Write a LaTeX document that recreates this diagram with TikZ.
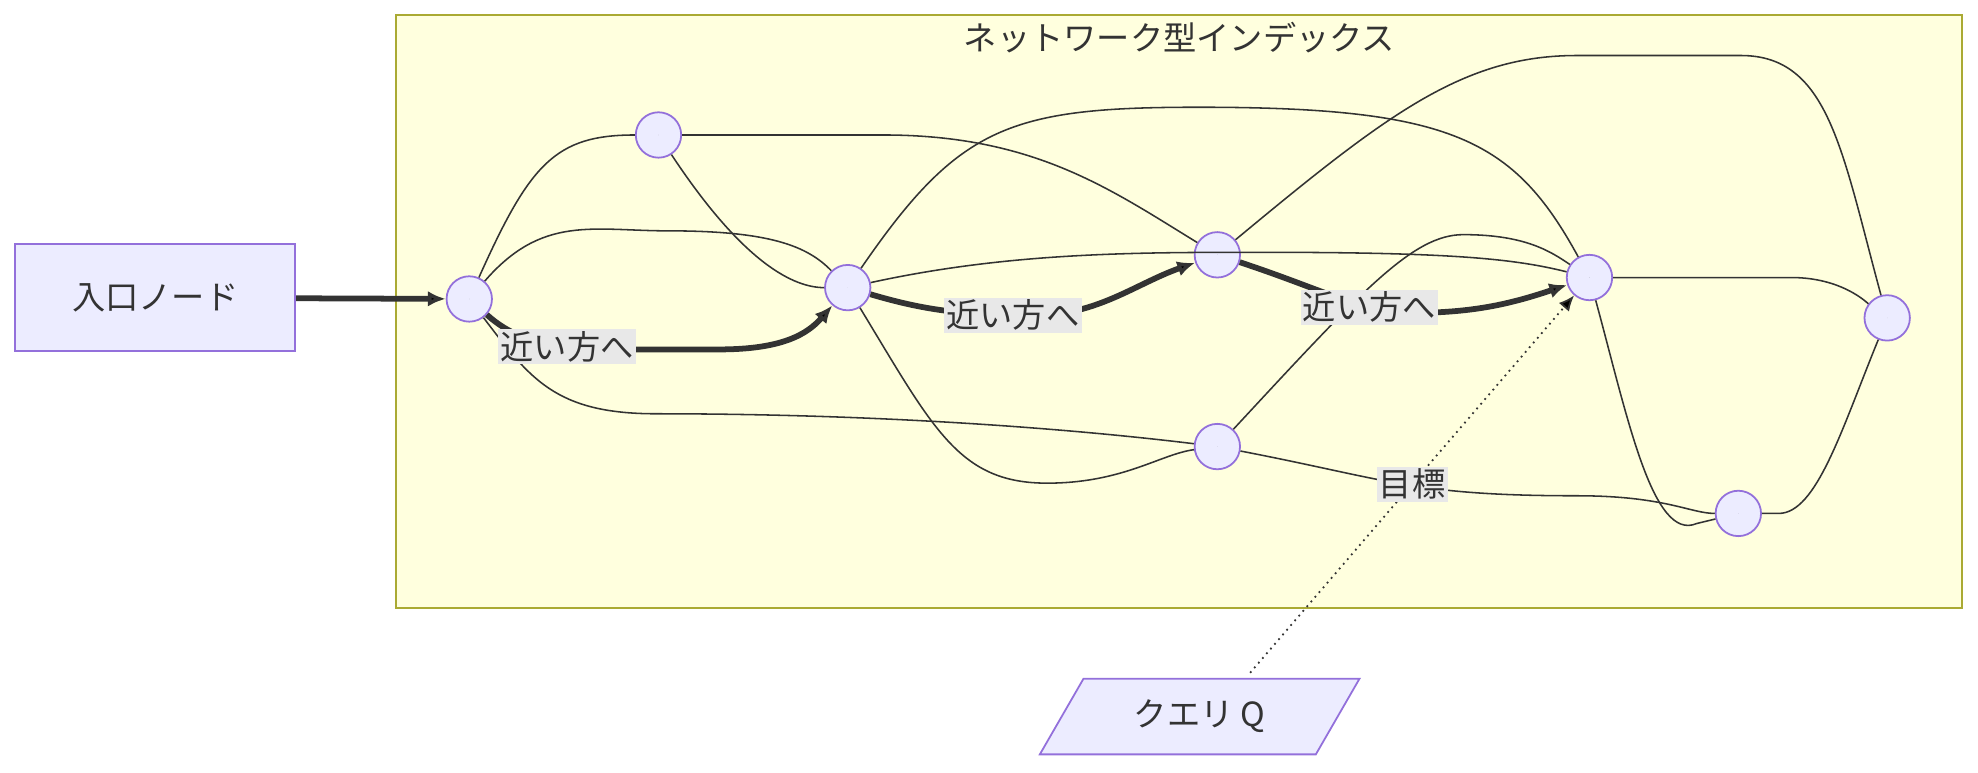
\documentclass[tikz,border=0pt]{standalone}
\usepackage{fontspec}
\setmainfont{Noto Sans CJK JP}
\usetikzlibrary{arrows.meta,shapes.geometric}
\definecolor{nfill}{HTML}{ECECFF}
\definecolor{nbord}{HTML}{9370DB}
\definecolor{cfill}{HTML}{FFFFDE}
\definecolor{cbord}{HTML}{AAAA33}
\definecolor{ln}{HTML}{333333}
\definecolor{lbg}{HTML}{E8E8E8}
\begin{document}
\begin{tikzpicture}[x=0.02cm,y=-0.02cm,
 pt/.style={circle,draw=nbord,fill=nfill,line width=0.8pt,minimum size=0.72cm,inner sep=0pt},
 thin/.style={draw=ln,line width=0.7pt},
 thick/.style={draw=ln,line width=2.6pt,-{Latex[length=8pt,width=7pt]}},
 lab/.style={fill=lbg,inner sep=1pt,font=\fontsize{15}{17}\selectfont,text=ln},
 every node/.append style={font=\fontsize{15}{17}\selectfont,text=ln}]
\useasboundingbox (0,0) rectangle (1568,612);
\draw[fill=cfill,draw=cbord,line width=0.8pt] (314,12) rectangle (1555,482);
\node at (935,30) {ネットワーク型インデックス};
\node[draw=nbord,fill=nfill,line width=0.8pt,minimum width=4.44cm,minimum height=1.7cm] (entry) at (123,236) {入口ノード};
\node[trapezium,trapezium left angle=60,trapezium right angle=120,draw=nbord,fill=nfill,line width=0.8pt,minimum width=2.4cm,minimum height=1.2cm] (q) at (951,568) {クエリ Q};
\foreach \n/\x/\y in {n0/372/237,n1/522/107,n2/672/228,n3/965/202,n4/965/354,n5/1260/220,n6/1496/252,n7/1378/407}
  \node[pt] (\n) at (\x,\y) {\tikz\fill[ln] (0,0) circle (0.09);};
% thin edges
\draw[thin] (n0) .. controls (420,130) and (440,107) .. (n1);
\draw[thin] (n0) .. controls (430,170) and (470,183) .. (530,183) .. controls (610,183) and (640,195) .. (n2);
\draw[thin] (n0) .. controls (420,300) and (440,328) .. (520,328) .. controls (700,328) and (850,340) .. (n4);
\draw[thin] (n1) .. controls (590,210) and (630,228) .. (n2);
\draw[thin] (n1) -- (700,107) .. controls (820,107) and (880,150) .. (n3);
\draw[thin] (n2) .. controls (760,100) and (800,85) .. (950,85) .. controls (1150,85) and (1200,110) .. (n5);
\draw[thin] (n2) .. controls (800,200) and (900,200) .. (1000,200) .. controls (1150,200) and (1200,205) .. (n5);
\draw[thin] (n3) .. controls (1100,90) and (1160,44) .. (1250,44) -- (1380,44) .. controls (1450,44) and (1460,120) .. (n6);
\draw[thin] (n2) .. controls (740,340) and (760,383) .. (830,383) .. controls (890,383) and (920,360) .. (n4);
\draw[thin] (n4) .. controls (1080,230) and (1120,186) .. (1160,186) .. controls (1210,186) and (1230,200) .. (n5);
\draw[thin] (n4) .. controls (1100,380) and (1120,393) .. (1250,393) .. controls (1320,393) and (1340,407) .. (n7);
\draw[thin] (n5) -- (1420,220) .. controls (1460,220) and (1480,240) .. (n6);
\draw[thin] (n5) .. controls (1290,330) and (1310,430) .. (1345,415) -- (n7);
\draw[thin] (n7) -- (1410,407) .. controls (1440,407) and (1460,340) .. (n6);
% thick edges
\draw[thick] (entry) -- (n0);
\draw[thick] (n0) .. controls (420,280) and (460,277) .. node[lab,pos=0.5]{近い方へ} (570,277) .. controls (620,277) and (640,265) .. (n2);
\draw[thick] (n2) .. controls (730,245) and (760,250) .. node[lab,pos=0.9]{近い方へ} (820,250) .. controls (870,250) and (900,225) .. (n3);
\draw[thick] (n3) .. controls (1050,230) and (1080,248) .. node[lab,pos=0.7]{近い方へ} (1120,248) .. controls (1170,248) and (1200,240) .. (n5);
\draw[draw=ln,line width=0.8pt,dotted,-{Latex[length=7pt,width=6pt]}] (q.north) ++(40,-4) -- node[lab,pos=0.5]{目標} (n5);
\end{tikzpicture}
\end{document}
